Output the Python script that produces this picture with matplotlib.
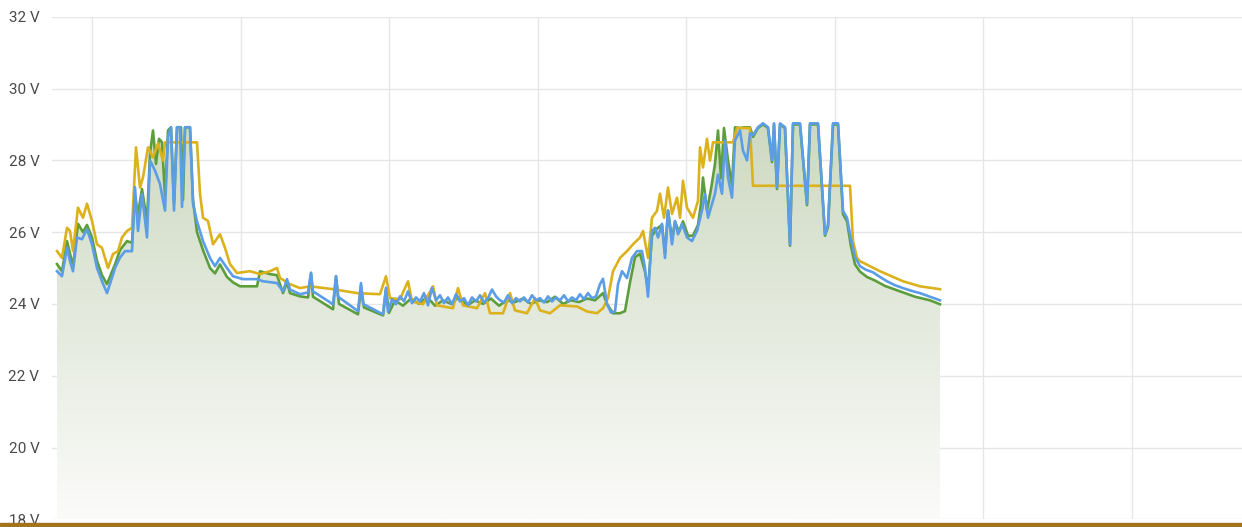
import matplotlib.pyplot as plt
import numpy as np
from matplotlib.patches import Rectangle
from matplotlib.colors import LinearSegmentedColormap

plt.rcParams['font.family'] = ['Roboto', 'DejaVu Sans']

# time = minutes since first sample, values in volts
blue_t = [2, 7, 12, 15, 18, 22, 27, 32, 37, 42, 47, 52, 57, 60, 65, 70, 77, 80, 83, 87,
          92, 95, 100, 105, 110, 113, 116, 119, 122, 125, 127, 130, 135, 138, 142, 148, 155, 160, 165, 172,
          178, 188, 202, 208, 222, 228, 232, 235, 245, 253, 256, 258, 278, 281, 283, 303, 306, 308, 328, 331,
          333, 337, 341, 345, 349, 353, 357, 361, 365, 369, 373, 377, 381, 385, 389, 393, 397, 401, 405, 409,
          413, 417, 421, 425, 429, 433, 437, 441, 445, 449, 453, 457, 461, 465, 469, 473, 477, 481, 485, 489,
          493, 497, 501, 505, 509, 513, 517, 521, 525, 529, 533, 537, 541, 545, 548, 552, 556, 560, 563, 567,
          572, 577, 582, 587, 590, 593, 597, 600, 603, 607, 610, 613, 617, 620, 623, 627, 632, 637, 642, 647,
          650, 653, 655, 660, 663, 667, 670, 673, 677, 680, 685, 688, 692, 695, 698, 703, 708, 713, 717, 719,
          722, 725, 730, 735, 738, 745, 752, 755, 763, 770, 773, 778, 783, 788, 792, 796, 800, 805, 811, 818,
          825, 832, 840, 848, 857, 865, 875, 885]
blue_v = [24.91, 24.77, 25.57, 25.19, 24.91, 25.85, 25.80, 26.08, 25.66, 25.00, 24.63, 24.30, 24.73, 25.00, 25.29, 25.47, 25.47, 27.25, 26.03, 27.06,
          25.85, 28.00, 27.71, 27.34, 26.60, 28.65, 28.92, 26.60, 28.92, 28.92, 26.70, 28.92, 28.92, 26.79, 26.30, 25.75, 25.28, 25.05, 25.28, 25.00,
          24.77, 24.69, 24.69, 24.63, 24.58, 24.35, 24.69, 24.40, 24.27, 24.32, 24.87, 24.35, 23.99, 24.77, 24.20, 23.80, 24.58, 24.00, 23.71, 24.45,
          23.78, 24.13, 23.99, 24.21, 24.07, 24.35, 24.02, 24.18, 24.07, 24.30, 23.96, 24.45, 24.10, 24.24, 24.02, 24.18, 23.99, 24.27, 24.07, 24.16,
          23.96, 24.18, 24.07, 24.24, 24.04, 24.16, 24.40, 24.21, 24.10, 24.04, 24.24, 24.02, 24.16, 24.07, 24.18, 24.04, 24.24, 24.10, 24.16, 24.04,
          24.21, 24.07, 24.18, 24.10, 24.24, 24.07, 24.18, 24.10, 24.27, 24.13, 24.30, 24.16, 24.21, 24.55, 24.70, 24.00, 23.76, 23.79, 24.55, 24.91,
          24.72, 25.28, 25.47, 25.47, 25.00, 24.20, 26.03, 26.12, 25.85, 26.23, 25.28, 26.60, 25.66, 26.31, 25.94, 26.23, 25.85, 25.75, 26.03, 26.60,
          27.06, 26.40, 26.59, 27.07, 27.60, 27.07, 28.55, 27.52, 26.96, 28.55, 28.83, 28.27, 28.00, 28.75, 28.70, 28.92, 29.03, 28.92, 28.00, 29.03,
          27.24, 29.03, 28.92, 25.66, 29.03, 29.03, 26.79, 29.03, 29.03, 25.94, 26.20, 29.03, 29.03, 26.59, 26.40, 25.80, 25.30, 25.05, 24.95, 24.88,
          24.75, 24.63, 24.52, 24.44, 24.36, 24.30, 24.20, 24.10]

gold_t = [2, 7, 12, 15, 18, 23, 28, 32, 37, 42, 47, 53, 58, 63, 67, 72, 77, 81, 85, 88,
          93, 98, 103, 108, 110, 142, 145, 148, 153, 158, 165, 170, 175, 182, 195, 205, 215, 222, 225, 235,
          245, 255, 278, 302, 325, 331, 335, 345, 353, 357, 368, 378, 382, 398, 403, 408, 422, 430, 435, 448,
          455, 460, 472, 480, 485, 495, 505, 522, 532, 542, 548, 553, 558, 565, 572, 578, 585, 588, 593, 597,
          602, 605, 609, 613, 617, 622, 625, 628, 632, 638, 643, 645, 648, 652, 655, 658, 678, 682, 695, 698,
          795, 798, 802, 805, 815, 825, 848, 865, 885]
gold_v = [25.47, 25.28, 26.12, 26.03, 25.47, 26.68, 26.40, 26.79, 26.31, 25.66, 25.56, 25.00, 25.39, 25.47, 25.85, 26.03, 26.12, 28.36, 27.24, 27.52,
          28.36, 28.08, 28.47, 27.99, 28.50, 28.50, 27.07, 26.40, 26.31, 25.66, 25.94, 25.56, 25.11, 24.86, 24.91, 24.83, 24.91, 25.00, 24.72, 24.55,
          24.44, 24.49, 24.41, 24.30, 24.27, 24.77, 24.16, 24.13, 24.63, 24.07, 23.99, 24.49, 23.96, 23.88, 24.44, 23.96, 23.88, 24.30, 23.74, 23.74,
          24.30, 23.82, 23.74, 24.16, 23.82, 23.74, 23.96, 23.93, 23.79, 23.74, 23.88, 24.16, 24.91, 25.28, 25.47, 25.66, 25.85, 26.03, 25.28, 26.40,
          26.59, 27.07, 26.40, 27.24, 26.51, 26.96, 26.40, 27.43, 26.68, 26.40, 26.87, 28.36, 27.80, 28.60, 27.99, 28.50, 28.50, 28.90, 28.90, 27.29,
          27.29, 25.75, 25.28, 25.19, 25.05, 24.91, 24.63, 24.49, 24.41]

green_t = [2, 7, 12, 15, 18, 23, 28, 32, 37, 42, 47, 52, 57, 60, 65, 72, 77, 80, 83, 87,
           92, 95, 98, 101, 104, 107, 110, 113, 116, 119, 122, 126, 128, 130, 135, 138, 142, 148, 155, 160,
           165, 172, 178, 185, 202, 205, 215, 222, 228, 232, 235, 245, 253, 256, 258, 278, 281, 284, 303, 306,
           309, 328, 331, 334, 340, 348, 356, 364, 372, 380, 388, 396, 404, 412, 420, 428, 436, 444, 452, 460,
           468, 476, 484, 492, 500, 508, 516, 524, 532, 540, 548, 552, 558, 565, 570, 575, 580, 585, 590, 593,
           597, 602, 607, 610, 613, 617, 620, 624, 628, 633, 638, 643, 646, 648, 652, 656, 660, 663, 666, 669,
           673, 677, 680, 685, 690, 695, 698, 703, 708, 713, 717, 719, 722, 725, 730, 735, 738, 745, 752, 755,
           763, 770, 773, 778, 783, 788, 792, 796, 800, 805, 812, 820, 830, 845, 860, 875, 885]
green_v = [25.11, 24.91, 25.75, 25.40, 25.05, 26.23, 26.00, 26.20, 25.85, 25.20, 24.80, 24.55, 24.90, 25.10, 25.50, 25.75, 25.70, 27.00, 26.50, 27.20,
           26.30, 28.20, 28.83, 27.90, 28.60, 28.50, 27.00, 28.83, 28.92, 26.80, 28.92, 28.92, 26.90, 28.92, 28.92, 26.90, 26.00, 25.50, 25.00, 24.85,
           25.10, 24.75, 24.60, 24.49, 24.49, 24.91, 24.83, 24.80, 24.30, 24.60, 24.30, 24.21, 24.18, 24.85, 24.20, 23.85, 24.77, 24.00, 23.71, 24.50,
           23.90, 23.68, 24.40, 23.75, 24.10, 23.95, 24.15, 24.00, 24.20, 23.95, 24.10, 24.00, 24.20, 23.95, 24.10, 24.00, 24.15, 23.95, 24.10, 24.05,
           24.15, 24.00, 24.10, 24.05, 24.20, 24.00, 24.10, 24.05, 24.15, 24.10, 24.30, 24.00, 23.74, 23.74, 23.80, 24.60, 25.30, 25.40, 24.90, 24.40,
           25.90, 26.10, 26.20, 25.40, 26.60, 25.80, 26.30, 26.00, 26.30, 25.90, 25.90, 26.20, 26.80, 27.52, 26.60, 27.20, 27.90, 28.83, 27.50, 28.90,
           28.00, 27.30, 28.92, 28.90, 28.92, 28.92, 28.65, 28.90, 29.00, 28.90, 27.95, 29.00, 27.20, 29.00, 28.90, 25.62, 29.00, 29.00, 26.75, 29.00,
           29.00, 25.90, 26.15, 29.00, 29.00, 26.50, 26.30, 25.60, 25.10, 24.90, 24.75, 24.65, 24.50, 24.35, 24.20, 24.10, 23.99]

y_ticks = [18, 20, 22, 24, 26, 28, 30, 32]
x_grid = [37, 185.5, 334, 482.5, 631, 779.5, 928, 1076.5]

fig = plt.figure(figsize=(12.42, 5.27), dpi=100)
ax = fig.add_axes([52 / 1242, 1 - 519.3 / 527, 1 - 52 / 1242, (519.3 - 16.7) / 527])

# gradient fill under the green series
poly = ax.fill_between(green_t, green_v, 18, color='none', lw=0)
grad = np.linspace(0, 1, 256).reshape(-1, 1)
cmap = LinearSegmentedColormap.from_list('fade', ['#fbfbfa', '#cdd9c1'])
im = ax.imshow(grad, cmap=cmap, aspect='auto', origin='lower', zorder=1,
               extent=[green_t[0], green_t[-1], 18, 29.1], interpolation='bilinear')
im.set_clip_path(poly.get_paths()[0], transform=ax.transData)

ax.plot(green_t, green_v, color='#5d9e3c', lw=1.9, zorder=3)
ax.plot(gold_t, gold_v, color='#dbb11c', lw=1.9, zorder=4)
ax.plot(blue_t, blue_v, color='#5b9de6', lw=1.9, zorder=5)

ax.set_xlim(-3, 1187)
ax.set_ylim(18, 32)
ax.set_yticks(y_ticks)
ax.set_yticklabels([f'{v} V' for v in y_ticks])
ax.set_xticks(x_grid)
ax.set_xticklabels([])
ax.tick_params(length=0, labelsize=11, labelcolor='#4a4a4a', pad=9)
ax.grid(True, color='#e6e6e6', lw=1)
ax.set_axisbelow(True)
for s in ax.spines.values():
    s.set_visible(False)

# dark gold strip along the bottom edge
fig.patches.append(Rectangle((0, 0), 1, 4 / 527, transform=fig.transFigure,
                             color='#a5731c', zorder=10))

fig.savefig('out.png', dpi=100)
